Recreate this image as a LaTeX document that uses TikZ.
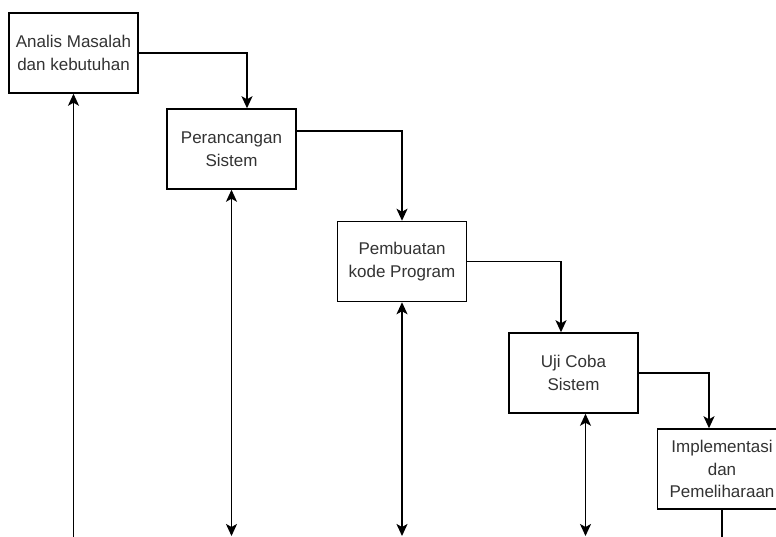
\documentclass[tikz,border=0pt]{standalone}
\usepackage{fontspec}
\setmainfont{Liberation Sans}
\usetikzlibrary{arrows.meta}

\definecolor{teks}{HTML}{333333}
\tikzset{
  tahap/.style={draw=black, line width=1.5pt, fill=white, minimum width=129, minimum height=80,
    inner sep=0pt, align=center, text=teks, font=\fontsize{17}{22.5}\selectfont},
  panah/.style={line width=1.5pt, -{Stealth[length=12pt,width=11pt,inset=3pt]}},
  duapanah/.style={line width=1.5pt, {Stealth[length=12pt,width=11pt,inset=3pt]}-{Stealth[length=12pt,width=11pt,inset=3pt]}}
}

\begin{document}
\begin{tikzpicture}[x=1pt, y=-1pt]

  \useasboundingbox (0,0) rectangle (776,537);
  \clip (0,0) rectangle (776,537);

  % tahapan
  \node[tahap] (analisis) at (73.5,53) {Analis Masalah\\dan kebutuhan};
  \node[tahap] (rancang) at (231.5,149) {Perancangan\\Sistem};
  \node[tahap] (kode) at (402,261.5) {Pembuatan\\kode Program};
  \node[tahap] (uji) at (573.5,373) {Uji Coba\\Sistem};
  \node[tahap] (impl) at (722,469) {Implementasi\\dan\\Pemeliharaan};

  % ujung bawah
  \coordinate (b1) at (73.5,550);
  \coordinate (b2) at (231.5,536);
  \coordinate (b3) at (402,536);
  \coordinate (b4) at (585.5,536);
  \coordinate (b5) at (722,550);

  % alur turun
  \draw[panah] (analisis.east) -| ([xshift=15.5]rancang.north);
  \draw[panah] ([yshift=18]rancang.east) -| (kode.north);
  \draw[panah] (kode.east) -| ([xshift=-12.5]uji.north);
  \draw[panah] (uji.east) -| ([xshift=-13]impl.north);

  % alur balik
  \draw[panah] (b1) -- (analisis.south);
  \draw[duapanah] (rancang.south) -- (b2);
  \draw[duapanah] (kode.south) -- (b3);
  \draw[duapanah] ([xshift=12]uji.south) -- (b4);
  \draw[line width=1.5pt] (impl.south) -- (b5);

\end{tikzpicture}
\end{document}
